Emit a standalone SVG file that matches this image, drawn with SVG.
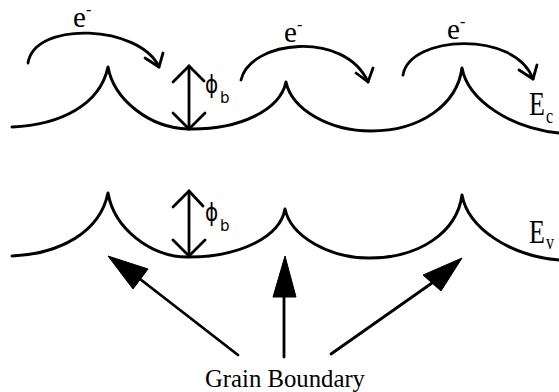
<svg xmlns="http://www.w3.org/2000/svg" width="559" height="392" viewBox="0 0 559 392">
<style>
.band{fill:none;stroke:#000;stroke-width:3;stroke-linecap:round;stroke-linejoin:round}
.ln{fill:none;stroke:#000;stroke-width:2.8;stroke-linecap:round;stroke-linejoin:round}
.head{fill:#000;stroke:#000;stroke-width:1;stroke-linejoin:round}
.serif{font-family:"Liberation Serif","Times New Roman",serif;fill:#000}
.sans{font-family:"DejaVu Sans","Liberation Sans",sans-serif;fill:#000}
</style>
<rect width="559" height="392" fill="#fff"/>
<g id="Ec">
<path class="band" d="M12,127 C60,125 100,105 108,67 C114,100 150,128 188,129 C240,130 280,110 286,82 C292,110 330,131 371,131 C420,131 457,105 462,68 C468,100 510,128 559,133"/>
<text class="serif" transform="translate(529,115) scale(1,1.3)" font-size="26">E</text>
<text class="serif" transform="translate(546,123) scale(1,1.3)" font-size="16">c</text>
</g>
<g id="Ev">
<path class="band" d="M12,256 C60,254 100,232 108,193 C114,228 150,257 188,257 C240,257 280,237 285,209 C291,237 330,258 369,258 C420,258 457,232 462,195 C468,228 510,256 559,260"/>
<text class="serif" transform="translate(529,243) scale(1,1.3)" font-size="26">E</text>
<text class="serif" transform="translate(546,249) scale(1,1.3)" font-size="16">v</text>
</g>
<g id="phib-top">
<line class="ln" x1="189" y1="66" x2="189" y2="129"/>
<polyline class="ln" points="173,82 189,66 204,81"/>
<polyline class="ln" points="173,113 189,129 205,113"/>
<text class="sans" transform="translate(205,93) scale(1,1.2)" font-size="20">ϕ</text>
<text class="sans" transform="translate(220,103) scale(1,1.1)" font-size="15">b</text>
</g>
<g id="phib-bottom">
<line class="ln" x1="189" y1="191" x2="189" y2="256"/>
<polyline class="ln" points="173,207 189,191 203,206"/>
<polyline class="ln" points="173,240 189,256 205,240"/>
<text class="sans" transform="translate(205,221) scale(1,1.2)" font-size="20">ϕ</text>
<text class="sans" transform="translate(220,231) scale(1,1.1)" font-size="15">b</text>
</g>
<g id="hops">
<path class="ln" d="M28,63 C35,20 140,25 159,67"/>
<polyline class="ln" points="145,58 159,67 163,53"/>
<text class="serif" x="73" y="27" font-size="29">e<tspan dy="-12" font-size="16">-</tspan></text>
<path class="ln" d="M241,80 C250,40 345,30 368,82"/>
<polyline class="ln" points="356,73 368,82 373,68"/>
<text class="serif" x="284" y="42" font-size="29">e<tspan dy="-12" font-size="16">-</tspan></text>
<path class="ln" d="M403,75 C410,35 515,30 533,79"/>
<polyline class="ln" points="519,70 533,79 537,65"/>
<text class="serif" x="447" y="39" font-size="29">e<tspan dy="-12" font-size="16">-</tspan></text>
</g>
<g id="connectors">
<line class="ln" x1="238" y1="355" x2="140" y2="279"/>
<polygon class="head" points="108,256 133,289 148,269"/>
<line class="ln" x1="284" y1="357" x2="284" y2="297"/>
<polygon class="head" points="285,256 273,297 296,297"/>
<line class="ln" x1="331" y1="354" x2="432" y2="283"/>
<polygon class="head" points="462,258 423,275 441,291"/>
</g>
<g id="label">
<text class="serif" x="205" y="387" font-size="25" textLength="160" lengthAdjust="spacingAndGlyphs">Grain Boundary</text>
</g>
</svg>
